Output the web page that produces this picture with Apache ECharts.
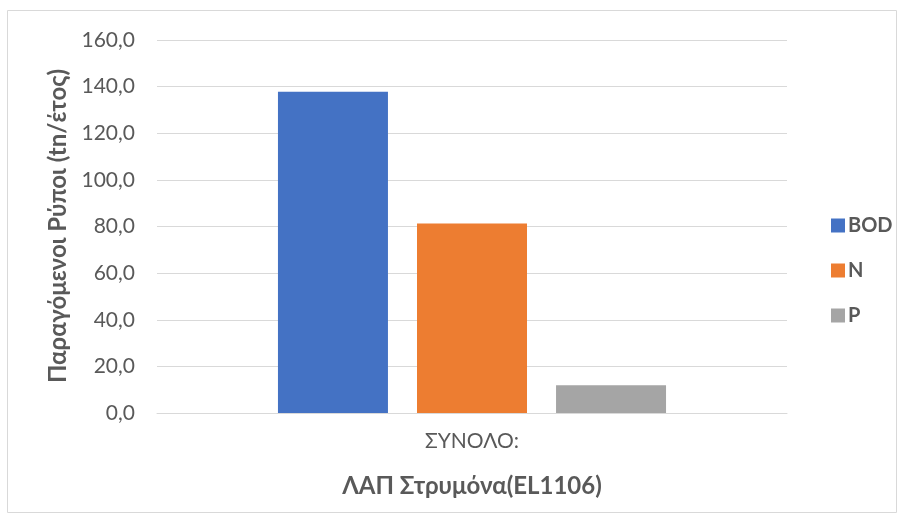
<!DOCTYPE html>
<html>
<head>
<meta charset="utf-8">
<script src="https://cdn.jsdelivr.net/npm/echarts@6/dist/echarts.min.js"></script>
<style>
  html, body { margin: 0; padding: 0; background: #fff; }
  #chart { width: 904px; height: 524px; }
</style>
</head>
<body>
<div id="chart"></div>
<script>
// Pollutant loads for the river basin district
const categories = ['ΣΥΝΟΛΟ:'];
const seriesNames = ['BOD', 'N', 'P'];
const bodValues = [137.8];
const nValues = [81.3];
const pValues = [11.9];
const yTicks = { min: 0, max: 160, interval: 20 };
const yTitle = 'Παραγόμενοι Ρύποι (tn/έτος)';
const xTitle = 'ΛΑΠ Στρυμόνα(EL1106)';
const colors = ['#4472C4', '#ED7D31', '#A5A5A5'];

const font = 'Lato, "Open Sans", "Liberation Sans", sans-serif';
const textColor = '#595959';

const chart = echarts.init(document.getElementById('chart'));
chart.setOption({
  animation: false,
  textStyle: { fontFamily: font },
  graphic: [
    {
      type: 'rect',
      shape: { x: 7.5, y: 10.5, width: 889, height: 502 },
      style: { fill: 'none', stroke: '#d9d9d9', lineWidth: 1 },
      silent: true
    },
    {
      // vertical value-axis title
      type: 'text',
      x: 58,
      y: 226,
      rotation: Math.PI / 2,
      style: {
        text: yTitle,
        fill: textColor,
        font: 'bold 24px ' + font,
        align: 'center',
        verticalAlign: 'middle'
      },
      silent: true
    }
  ],
  grid: { left: 157, right: 117, top: 40, bottom: 111 },
  legend: {
    orient: 'vertical',
    left: 826,
    top: 210,
    itemGap: 24,
    itemWidth: 14,
    itemHeight: 14,
    icon: 'rect',
    textStyle: { color: textColor, fontSize: 20, lineHeight: 21, fontWeight: 'bold', fontFamily: font, padding: [0, 0, 0, -2] },
    data: seriesNames
  },
  xAxis: {
    type: 'category',
    data: categories,
    axisLine: { show: true, lineStyle: { color: '#d9d9d9', width: 1 } },
    axisTick: { show: false },
    axisLabel: { color: textColor, fontSize: 21, margin: 18, fontFamily: font },
    name: xTitle,
    nameLocation: 'middle',
    nameGap: 61,
    nameTextStyle: { color: textColor, fontSize: 24, fontWeight: 'bold', fontFamily: font }
  },
  yAxis: {
    type: 'value',
    min: yTicks.min,
    max: yTicks.max,
    interval: yTicks.interval,
    axisLine: { show: false },
    axisTick: { show: false },
    splitLine: { lineStyle: { color: '#d9d9d9', width: 1 } },
    axisLabel: {
      color: textColor,
      fontSize: 21,
      margin: 22,
      fontFamily: font,
      formatter: v => v.toFixed(1).replace('.', ',')
    }
  },
  series: [
    { name: seriesNames[0], type: 'bar', data: bodValues, itemStyle: { color: colors[0] }, barWidth: 110, barGap: '26.4%' },
    { name: seriesNames[1], type: 'bar', data: nValues, itemStyle: { color: colors[1] }, barWidth: 110, barGap: '26.4%' },
    { name: seriesNames[2], type: 'bar', data: pValues, itemStyle: { color: colors[2] }, barWidth: 110, barGap: '26.4%' }
  ]
});
</script>
</body>
</html>
